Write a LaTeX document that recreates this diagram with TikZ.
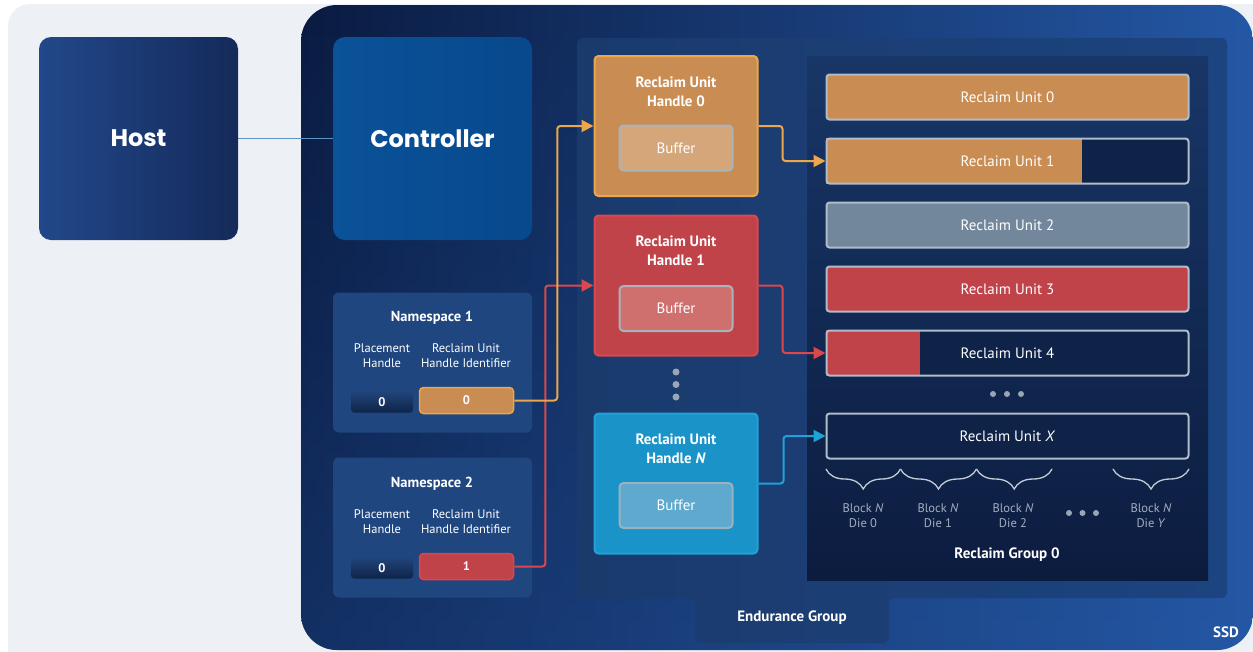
\documentclass[tikz,border=0pt]{standalone}
\usepackage{fontspec}
\setmainfont{PT Sans}
\newfontfamily\popfont{Poppins}
\usetikzlibrary{arrows.meta,decorations.pathreplacing,fadings,calc}
\definecolor{panelgrey}{HTML}{EDF1F5}
\definecolor{ssddark}{HTML}{0A1B41}
\definecolor{ssdblue}{HTML}{2457A4}
\definecolor{egleft}{HTML}{1A3A6C}
\definecolor{egright}{HTML}{1C4480}
\definecolor{rgtop}{HTML}{183667}
\definecolor{rgbot}{HTML}{0C1C3F}
\definecolor{hosttop}{HTML}{142A5A}
\definecolor{hostbot}{HTML}{22488A}
\definecolor{ctrla}{HTML}{0A5299}
\definecolor{ctrlb}{HTML}{08488C}
\definecolor{nsfill}{HTML}{1F467F}
\definecolor{phtop}{HTML}{21447A}
\definecolor{phbot}{HTML}{0F2449}
\definecolor{orangef}{HTML}{C98D53}
\definecolor{oranged}{HTML}{EEA64A}
\definecolor{orangebuf}{HTML}{D5A679}
\definecolor{redf}{HTML}{C1434A}
\definecolor{redd}{HTML}{DA474C}
\definecolor{redbuf}{HTML}{CF6F6E}
\definecolor{bluef}{HTML}{1A94C8}
\definecolor{blued}{HTML}{20A2D8}
\definecolor{bluebuf}{HTML}{5FA9CF}
\definecolor{bufborder}{HTML}{A9B3BC}
\definecolor{rubord}{HTML}{AFBCCA}
\definecolor{rugrey}{HTML}{73879C}
\definecolor{ruempty}{HTML}{0F2248}
\definecolor{labgrey}{HTML}{A3AFBE}
\definecolor{dotgrey}{HTML}{9BA6B5}
\definecolor{linkblue}{HTML}{5F93C4}
\definecolor{bracecol}{HTML}{C3CCD7}
\tikzset{
  bigbox/.style={rounded corners=12pt, minimum width=199pt, minimum height=203pt, text=white,
    font=\popfont\bfseries\fontsize{24}{28}\selectfont, inner sep=0pt},
  nsbox/.style={fill=nsfill, rounded corners=6pt, minimum width=199pt, minimum height=140pt, inner sep=0pt},
  nstitle/.style={text=white, font=\bfseries\fontsize{14.5}{18}\selectfont, inner sep=0pt},
  nslabel/.style={text=white, align=center, font=\fontsize{12.5}{15}\selectfont, inner sep=0pt},
  phbox/.style={top color=phtop, bottom color=phbot, rounded corners=3pt, minimum width=62pt, minimum height=21pt,
    text=white, font=\bfseries\fontsize{12.5}{15}\selectfont, inner sep=0pt},
  idbox/.style={rounded corners=4pt, line width=1.5pt, minimum width=94pt, minimum height=26pt,
    text=white, font=\bfseries\fontsize{12.5}{15}\selectfont, inner sep=0pt},
  ruhbox/.style={rounded corners=4pt, line width=2pt, minimum width=163pt, minimum height=140pt, inner sep=0pt},
  ruhtitle/.style={text=white, align=center, font=\bfseries\fontsize{15}{19}\selectfont, inner sep=0pt},
  bufbox/.style={rounded corners=4pt, line width=2pt, draw=bufborder, minimum width=113pt, minimum height=45pt,
    text=white, font=\fontsize{15}{18}\selectfont, inner sep=0pt},
  rubox/.style={draw=rubord, line width=2pt, rounded corners=3pt, minimum width=362pt, minimum height=45pt,
    text=white, font=\fontsize{15}{18}\selectfont, inner sep=0pt},
  rubg/.style={rounded corners=3pt, minimum width=362pt, minimum height=45pt, inner sep=0pt},
  blocklab/.style={text=labgrey, align=center, font=\fontsize{12.5}{15}\selectfont, inner sep=0pt},
  boldlab/.style={text=white, font=\bfseries\fontsize{15}{18}\selectfont, inner sep=0pt},
  conn/.style={line width=2pt, rounded corners=3pt, -{Triangle[length=12pt,width=12pt]}},
  brc/.style={draw=bracecol, line width=1.3pt, decorate, decoration={brace, mirror, amplitude=20pt}},
}
\begin{document}
\begin{tikzpicture}[x=1pt,y=-1pt]
\useasboundingbox (0,0) rectangle (1253,651);
\fill[white] (0,0) rectangle (1253,651);
\begin{scope}
\clip (0,0) rectangle (1253,651);
\fill[panelgrey, rounded corners=22pt] (8,4) rectangle (1300,700);
% SSD panel
\shade[left color=ssddark, right color=ssdblue, rounded corners=36pt] (301,5) rectangle (1253,650);
\fill[ssdblue, path fading=north, fill opacity=0.35, rounded corners=36pt] (301,5) rectangle (1253,650);
\end{scope}
\node[boldlab] (ssd) at (1226,632) {SSD};

% Endurance group
\shade[left color=egleft, right color=egright, rounded corners=6pt]
  (577,38) -- (1227,38) -- (1227,598) -- (889,598) -- (889,643) -- (695,643) -- (695,598) -- (577,598) -- cycle;
\node[boldlab] (eglab) at (792,618) {Endurance Group};

% Reclaim group
\shade[top color=rgtop, bottom color=rgbot] (807,56) rectangle (1208,580);
\node[boldlab] (rglab) at (1007,555) {Reclaim Group 0};

% Host and controller
\node[bigbox, left color=hostbot, right color=hosttop] (host) at (138.5,138.5) {Host};
\node[bigbox, left color=ctrla, right color=ctrlb] (ctrl) at (432.5,138.5) {Controller};
\draw[linkblue, line width=1.5pt] (host.east) -- (ctrl.west);

% Namespaces
\node[nsbox] (ns1) at (432.5,362.5) {};
\node[nstitle] (ns1t) at (432,318) {Namespace 1};
\node[nslabel] (ns1ph) at (382,356) {Placement\\Handle};
\node[nslabel] (ns1id) at (466,356) {Reclaim Unit\\Handle Identifier};
\node[phbox] (ph1) at (382,402) {0};
\node[idbox, fill=orangef, draw=oranged] (id1) at (466.5,400.5) {0};

\node[nsbox] (ns2) at (432.5,527.5) {};
\node[nstitle] (ns2t) at (432,484) {Namespace 2};
\node[nslabel] (ns2ph) at (382,522) {Placement\\Handle};
\node[nslabel] (ns2id) at (466,522) {Reclaim Unit\\Handle Identifier};
\node[phbox] (ph2) at (382,568) {0};
\node[idbox, fill=redf, draw=redd] (id2) at (466.5,566.5) {1};

% Reclaim unit handles
\node[ruhbox, fill=orangef, draw=oranged] (ruh0) at (676,126) {};
\node[ruhtitle] (ruh0t) at (676,91.5) {Reclaim Unit\\Handle 0};
\node[bufbox, fill=orangebuf] (buf0) at (676,148) {Buffer};

\node[ruhbox, fill=redf, draw=redd] (ruh1) at (676,285.5) {};
\node[ruhtitle] (ruh1t) at (676,251) {Reclaim Unit\\Handle 1};
\node[bufbox, fill=redbuf] (buf1) at (676,308.5) {Buffer};

\fill[dotgrey] (676,372) circle (3.5pt);
\fill[dotgrey] (676,384.5) circle (3.5pt);
\fill[dotgrey] (676,397) circle (3.5pt);

\node[ruhbox, fill=bluef, draw=blued] (ruhN) at (676,483.5) {};
\node[ruhtitle] (ruhNt) at (676,449) {Reclaim Unit\\Handle \textit{N}};
\node[bufbox, fill=bluebuf, draw=bufborder!80!bluebuf] (bufN) at (676,505.5) {Buffer};

% Reclaim units
\node[rubox, fill=orangef] (ru0) at (1007.5,97) {Reclaim Unit 0};
\node[rubg, fill=ruempty] (ru1bg) at (1007.5,161) {};
\fill[orangef] (ru1bg.north west) rectangle ([xshift=256pt]ru1bg.south west);
\node[rubox] (ru1) at (1007.5,161) {Reclaim Unit 1};
\node[rubox, fill=rugrey] (ru2) at (1007.5,225) {Reclaim Unit 2};
\node[rubox, fill=redf] (ru3) at (1007.5,289) {Reclaim Unit 3};
\node[rubg, fill=ruempty] (ru4bg) at (1007.5,353) {};
\fill[redf] (ru4bg.north west) rectangle ([xshift=94pt]ru4bg.south west);
\node[rubox] (ru4) at (1007.5,353) {Reclaim Unit 4};
\fill[dotgrey] (993,394) circle (3pt);
\fill[dotgrey] (1007,394) circle (3pt);
\fill[dotgrey] (1021,394) circle (3pt);
\node[rubox, fill=ruempty] (rux) at (1007.5,436) {Reclaim Unit \textit{X}};

% Braces and blocks
\coordinate (b0) at (826,469);
\coordinate (b1) at (900.5,469);
\coordinate (b2) at (976.5,469);
\coordinate (b3) at (1052,469);
\coordinate (b4) at (1113,469);
\coordinate (b5) at (1189,469);
\draw[brc] (b0) -- (b1);
\draw[brc] (b1) -- (b2);
\draw[brc] (b2) -- (b3);
\draw[brc] (b4) -- (b5);
\node[blocklab] (blk0) at (863,516) {Block \textit{N}\\Die 0};
\node[blocklab] (blk1) at (938,516) {Block \textit{N}\\Die 1};
\node[blocklab] (blk2) at (1013,516) {Block \textit{N}\\Die 2};
\node[blocklab] (blkY) at (1151,516) {Block \textit{N}\\Die \textit{Y}};
\fill[dotgrey] (1069,513) circle (3pt);
\fill[dotgrey] (1082.5,513) circle (3pt);
\fill[dotgrey] (1096,513) circle (3pt);

% Connectors
\draw[conn, redd] (id2.east) -- ++(31,0) |- (ruh1.west);
\draw[conn, oranged] (id1.east) -- ++(43,0) |- (ruh0.west);
\draw[conn, oranged] (ruh0.east) -- ++(24,0) |- (ru1.west);
\draw[conn, redd] (ruh1.east) -- ++(24,0) |- (ru4.west);
\draw[conn, blued] (ruhN.east) -- ++(25,0) |- (rux.west);
\end{tikzpicture}
\end{document}
